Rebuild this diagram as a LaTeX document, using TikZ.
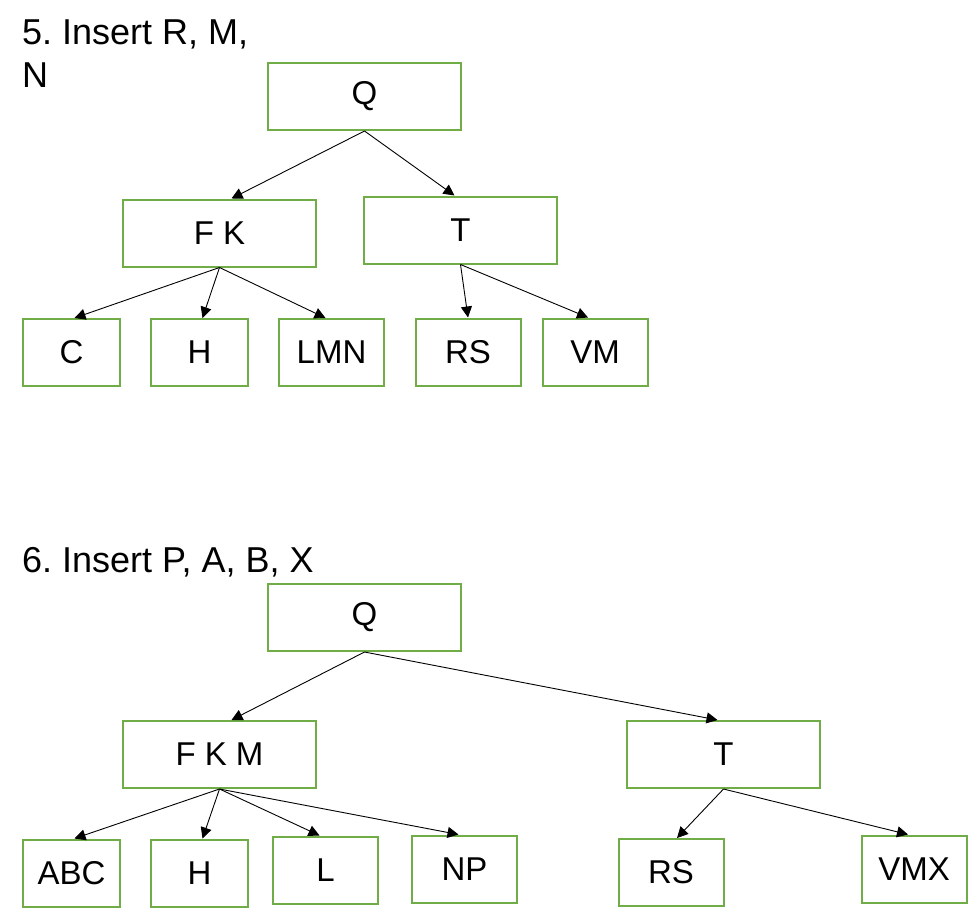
\documentclass[tikz,border=0pt]{standalone}
\usepackage{fontspec}
\setmainfont{Liberation Sans}
\usetikzlibrary{arrows.meta}
\definecolor{boxgreen}{RGB}{112,173,71}
\frenchspacing

\begin{document}
\begin{tikzpicture}[x=1pt,y=-1pt,
  every node/.style={font=\fontsize{33}{40}\selectfont},
  title/.style={anchor=north west,align=left,inner sep=0pt,font=\fontsize{36}{43}\selectfont},
  big/.style={draw=boxgreen,line width=2pt,minimum width=193pt,minimum height=67pt,inner sep=0pt},
  leaf/.style={draw=boxgreen,line width=2pt,minimum width=97pt,minimum height=67pt,inner sep=0pt},
  leafw/.style={leaf,minimum width=105pt},
  ar/.style={-{Triangle[length=11pt,width=11pt]},line width=0.9pt}]
\useasboundingbox (0,0) rectangle (974,918);
% step 5
\node[title] (s5) at (22,20) {5. Insert R, M,\\N};
\node[big] (q1) at (364.5,96.5) {Q};
\node[big] (fk1) at (219.5,233) {F K};
\node[big] (t1) at (460.5,230) {T};
\node[leaf] (c1) at (71.5,352.5) {C};
\node[leaf] (h1) at (199.5,352.5) {H};
\node[leafw] (lmn1) at (331.5,352.5) {LMN};
\node[leafw] (rs1) at (468,352) {RS};
\node[leafw] (vm1) at (595,352) {VM};
\draw[ar] (q1.south) -- ([xshift=12pt]fk1.north);
\draw[ar] (q1.south) -- ([xshift=-6pt]t1.north);
\draw[ar] (fk1.south) -- ([xshift=3pt]c1.north);
\draw[ar] (fk1.south) -- ([xshift=3pt]h1.north);
\draw[ar] (fk1.south) -- ([xshift=-6pt]lmn1.north);
\draw[ar] (t1.south) -- (rs1.north);
\draw[ar] (t1.south) -- ([xshift=-7pt]vm1.north);
% step 6
\node[title] (s6) at (22,547) {6. Insert P, A, B, X};
\node[big] (q2) at (364.5,617.5) {Q};
\node[big] (fkm2) at (219.5,754.5) {F K M};
\node[big] (t2) at (723.5,754.5) {T};
\node[leaf] (abc2) at (71.5,873) {ABC};
\node[leaf] (h2) at (199.5,873) {H};
\node[leafw] (l2) at (325.5,870) {L};
\node[leafw] (np2) at (464.5,869) {NP};
\node[leafw] (rs2) at (671,872.5) {RS};
\node[leafw] (vmx2) at (914,869) {VMX};
\draw[ar] (q2.south) -- ([xshift=12pt]fkm2.north);
\draw[ar] (q2.south) -- ([xshift=-6pt]t2.north);
\draw[ar] (fkm2.south) -- ([xshift=3pt]abc2.north);
\draw[ar] (fkm2.south) -- ([xshift=3pt]h2.north);
\draw[ar] (fkm2.south) -- ([xshift=-6pt]l2.north);
\draw[ar] (fkm2.south) -- ([xshift=-6pt]np2.north);
\draw[ar] (t2.south) -- ([xshift=6pt]rs2.north);
\draw[ar] (t2.south) -- ([xshift=-6pt]vmx2.north);
\end{tikzpicture}
\end{document}
